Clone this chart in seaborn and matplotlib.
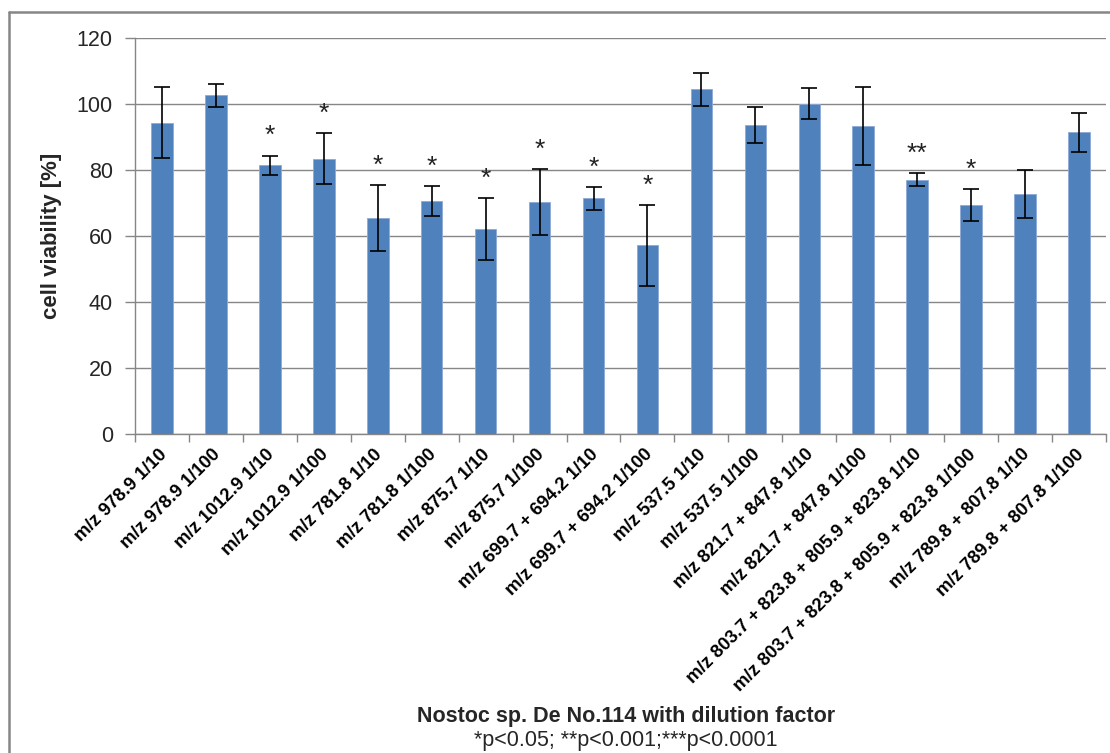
import matplotlib
matplotlib.use("Agg")
import matplotlib.pyplot as plt
from matplotlib.lines import Line2D
import numpy as np
import pandas as pd
import seaborn as sns

# Extract fractions (m/z) and dilution factors
categories = [
    "m/z 978.9 1/10", "m/z 978.9 1/100",
    "m/z 1012.9 1/10", "m/z 1012.9 1/100",
    "m/z 781.8 1/10", "m/z 781.8 1/100",
    "m/z 875.7 1/10", "m/z 875.7 1/100",
    "m/z 699.7 + 694.2 1/10", "m/z 699.7 + 694.2 1/100",
    "m/z 537.5 1/10", "m/z 537.5 1/100",
    "m/z 821.7 + 847.8 1/10", "m/z 821.7 + 847.8 1/100",
    "m/z 803.7 + 823.8 + 805.9 + 823.8 1/10",
    "m/z 803.7 + 823.8 + 805.9 + 823.8 1/100",
    "m/z 789.8 + 807.8 1/10", "m/z 789.8 + 807.8 1/100",
]
# Mean cell viability [%] and standard deviation
viability = [94.4, 102.6, 81.4, 83.4, 65.5, 70.7, 62.1, 70.4, 71.4, 57.2,
             104.5, 93.7, 100.1, 93.3, 77.1, 69.4, 72.7, 91.4]
sd = [10.8, 3.4, 3.0, 7.7, 10.0, 4.5, 9.5, 10.0, 3.5, 12.3,
      5.0, 5.5, 4.7, 11.8, 2.0, 4.8, 7.3, 6.0]
# Significance markers
significance = ["", "", "*", "*", "*", "*", "*", "*", "*", "*",
                "", "", "", "", "**", "*", "", ""]
y_ticks = [0, 20, 40, 60, 80, 100, 120]

df = pd.DataFrame({"sample": categories, "viability": viability, "sd": sd})

sns.set_style("white")
plt.rcParams["font.family"] = ["Liberation Sans", "DejaVu Sans"]

GRID = "#868686"
BAR = "#4F81BD"

fig = plt.figure(figsize=(11.10, 7.53), dpi=100)
ax = fig.add_axes([0.1216, 0.4236, 0.8748, 0.5259])

sns.barplot(data=df, x="sample", y="viability", color=BAR, width=0.4,
            errorbar=None, saturation=1, edgecolor="#8EAAD6", linewidth=0.6,
            ax=ax, zorder=3)

x = np.arange(len(categories))
ax.errorbar(x, df["viability"], yerr=df["sd"], fmt="none", ecolor="black",
            elinewidth=1.2, capsize=6, capthick=1.2, zorder=4)

for xi, v, s, mark in zip(x, viability, sd, significance):
    if mark:
        ax.text(xi, v + s + 2.2, mark, ha="center", va="bottom",
                fontsize=19, color="#222222", zorder=5)

ax.set_ylim(0, 120)
ax.set_xlim(-0.5, len(categories) - 0.5)
ax.set_yticks(y_ticks)
ax.yaxis.grid(True, color=GRID, linewidth=1.0, zorder=0)
ax.set_axisbelow(True)
ax.tick_params(axis="y", which="major", direction="out", length=7, width=1,
               color=GRID, pad=9, labelsize=15.5, left=True)

# Category labels, with tick marks on the category boundaries
ax.set_xticks(x)
ax.set_xticklabels([])
ax.tick_params(axis="x", which="major", length=0)
ax.set_xticks(np.arange(-0.5, len(categories), 1.0), minor=True)
ax.tick_params(axis="x", which="minor", direction="out", length=6, width=1,
               color=GRID, bottom=True)
trans = ax.get_xaxis_transform()
for xi, lab in zip(x, categories):
    ax.text(xi + 0.04, -0.045, lab, transform=trans, rotation=45,
            rotation_mode="anchor", ha="right", va="center",
            fontsize=13.2, fontweight="bold", color="black")

for side in ("top", "right"):
    ax.spines[side].set_visible(False)
for side in ("left", "bottom"):
    ax.spines[side].set_visible(True)
    ax.spines[side].set_color(GRID)
    ax.spines[side].set_linewidth(1.0)

ax.set_xlabel("")
ax.set_ylabel("cell viability [%]", fontsize=16, fontweight="bold")
ax.yaxis.set_label_coords(-0.075, 0.5)

fig.text(0.564, 0.049, "Nostoc sp. De No.114 with dilution factor",
         ha="center", va="center", fontsize=15.5, fontweight="bold")
fig.text(0.564, 0.016, "*p<0.05; **p<0.001;***p<0.0001",
         ha="center", va="center", fontsize=15.5)

# Outer chart frame
fig.add_artist(Line2D([0.008, 0.008], [0.0, 0.984], transform=fig.transFigure,
                      color=GRID, linewidth=1.8))
fig.add_artist(Line2D([0.008, 1.0], [0.984, 0.984], transform=fig.transFigure,
                      color=GRID, linewidth=1.8))

fig.savefig("out.png", dpi=100)
